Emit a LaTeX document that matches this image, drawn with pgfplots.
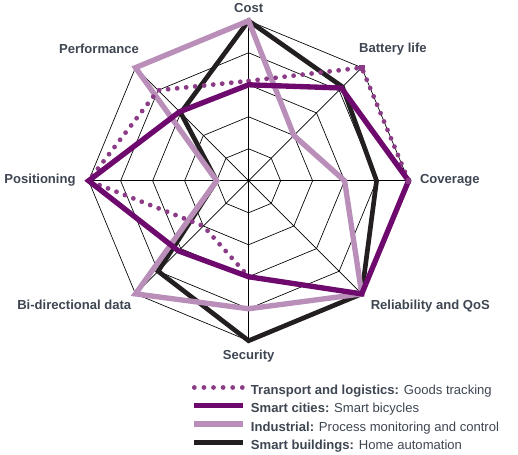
\documentclass[border=0pt]{standalone}
\usepackage{fontspec}
\setmainfont{Liberation Sans}
\usepackage{pgfplots}
\pgfplotsset{compat=1.18}
\definecolor{tlcol}{RGB}{140,60,135}
\definecolor{sccol}{RGB}{110,10,110}
\definecolor{incol}{RGB}{185,142,185}
\definecolor{sbcol}{RGB}{35,31,32}
\definecolor{txtcol}{RGB}{62,70,82}
\begin{document}
\begin{tikzpicture}
\begin{axis}[
  x=24pt, y=24pt,
  xmin=-7.77, xmax=8.42, ymin=-8.57, ymax=5.65,
  hide axis, clip=false,
  legend style={draw=none, fill=none, inner sep=0pt, outer sep=0pt,
    at={(axis cs:-1.78,-6.38)}, anchor=north west,
    font=\fontsize{9.8}{11}\selectfont, text=txtcol,
    row sep=4.6pt,
    nodes={inner xsep=0pt, inner ysep=0pt, text height=7.2pt, text depth=1.9pt}},
  legend cell align=left,
  legend image code/.code={\draw[#1] (0pt,2.6pt) -- (36.5pt,2.6pt); \path (40.5pt,2.6pt);},
  gridline/.style={black, line width=0.5pt, data cs=polar, forget plot},
]
% grid rings
\addplot[gridline] coordinates {(0,1)(45,1)(90,1)(135,1)(180,1)(225,1)(270,1)(315,1)} --cycle;
\addplot[gridline] coordinates {(0,2)(45,2)(90,2)(135,2)(180,2)(225,2)(270,2)(315,2)} --cycle;
\addplot[gridline] coordinates {(0,3)(45,3)(90,3)(135,3)(180,3)(225,3)(270,3)(315,3)} --cycle;
\addplot[gridline] coordinates {(0,4)(45,4)(90,4)(135,4)(180,4)(225,4)(270,4)(315,4)} --cycle;
\addplot[gridline] coordinates {(0,5)(45,5)(90,5)(135,5)(180,5)(225,5)(270,5)(315,5)} --cycle;
% spokes
\addplot[gridline] coordinates {(0,5)(180,5)};
\addplot[gridline] coordinates {(45,5)(225,5)};
\addplot[gridline] coordinates {(90,5)(270,5)};
\addplot[gridline] coordinates {(135,5)(315,5)};

% series
\addplot[sbcol, line width=3.5pt, data cs=polar, forget plot]
  coordinates {(90,5)(45,4.15)(0,4)(-45,5)(-90,5)(-135,4)(180,1)(135,3)} --cycle;
\addplot[incol, line width=4pt, data cs=polar, forget plot]
  coordinates {(90,5)(45,2)(0,3)(-45,5)(-90,4)(-135,5)(180,1)(135,5)} --cycle;
\addplot[tlcol, line width=3.6pt, line cap=round, dash pattern=on 0pt off 6.8pt, data cs=polar, forget plot]
  coordinates {(90,3.12)(45,5)(0,5)(-45,5)(-90,3)(-135,2)(180,5)(135,4)} --cycle;
\addplot[only marks, mark=square*, mark size=1.6pt, tlcol, data cs=polar, forget plot]
  coordinates {(45,5)(0,5)};
\addplot[sccol, line width=4pt, data cs=polar, forget plot]
  coordinates {(90,3)(45,4.1)(0,5)(-45,5)(-90,3)(-135,3.1)(180,5)(135,3.05)} --cycle;

% legend entries
\addlegendimage{tlcol, line width=3.6pt, line cap=round, dash pattern=on 0pt off 7.2pt}
\addlegendentry{\textbf{Transport and logistics:} Goods tracking}
\addlegendimage{sccol, line width=4pt}
\addlegendentry{\textbf{Smart cities:} Smart bicycles}
\addlegendimage{incol, line width=4pt}
\addlegendentry{\textbf{Industrial:} Process monitoring and control}
\addlegendimage{sbcol, line width=4pt}
\addlegendentry{\textbf{Smart buildings:} Home automation}

% axis labels
\begin{scope}[every node/.style={font=\fontsize{9.8}{11}\selectfont\bfseries, text=txtcol, inner sep=0pt}]
\node[anchor=center] at (axis cs:0,5.40) {Cost};
\node[anchor=center] at (axis cs:4.51,4.12) {Battery life};
\node[anchor=west] at (axis cs:5.35,0) {Coverage};
\node[anchor=west] at (axis cs:3.81,-3.91) {Reliability and QoS};
\node[anchor=center] at (axis cs:0,-5.48) {Security};
\node[anchor=east] at (axis cs:-3.66,-3.88) {Bi-directional data};
\node[anchor=east] at (axis cs:-5.40,0.03) {Positioning};
\node[anchor=east] at (axis cs:-3.42,4.11) {Performance};
\end{scope}
\path (axis cs:-7.77,-8.57) rectangle (axis cs:8.42,5.65);
\end{axis}
\end{tikzpicture}
\end{document}
